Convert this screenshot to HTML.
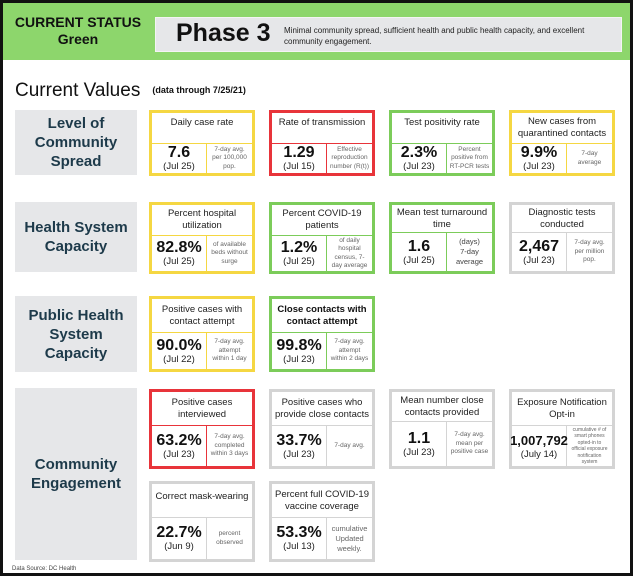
<!DOCTYPE html><html><head><style>
body{margin:0;width:633px;height:576px;background:#fff;font-family:"Liberation Sans",sans-serif;position:relative;overflow:hidden}
.frame{position:absolute;left:0;top:0;width:627px;height:570px;border:3px solid #111}
.hdr{position:absolute;left:3px;top:3px;width:627px;height:57px;background:#8dd66c}
.cs{position:absolute;left:8px;top:14px;width:140px;text-align:center;font-weight:bold;font-size:14px;line-height:17px;color:#111}
.gb{position:absolute;left:155px;top:17px;width:465px;height:33px;background:#e6e7e9;border:1px solid #f4f4f4}
.ph{position:absolute;left:20px;top:1px;font-size:25px;font-weight:bold;color:#111}
.pd{position:absolute;left:128px;top:7px;font-size:8px;line-height:11px;color:#222;width:335px}
.cv{position:absolute;left:15px;top:80px;font-size:19px;color:#111}
.cv small{font-size:9px;margin-left:12px;font-weight:bold;vertical-align:3px}
.cat{position:absolute;left:15px;width:122px;background:#e6e7e9;color:#1d3a4a;font-weight:bold;font-size:15px;line-height:19px;display:flex;align-items:center;justify-content:center;text-align:center}
.card{position:absolute;width:100px;border:3px solid #ccc;box-sizing:content-box}
.card .t{box-sizing:border-box;position:absolute;left:0;right:0;top:0;display:flex;align-items:center;justify-content:center;text-align:center;font-size:9.5px;line-height:12px;color:#222;border-bottom:1px solid}
.card .v{position:absolute;left:0;width:54px;bottom:0;border-right:1px solid;display:flex;flex-direction:column;align-items:center;justify-content:center;text-align:center}
.v b{font-size:16px;color:#111;line-height:17px}
.v span{font-size:9.5px;color:#222;line-height:12px}
.card .n{position:absolute;left:55px;right:0;bottom:0;display:flex;align-items:center;justify-content:center;text-align:center;font-size:6.5px;line-height:8.5px;color:#666}
.y{border-color:#f5d742}.y .t,.y .v{border-color:#f5d742}
.r{border-color:#e8343a}.r .t,.r .v{border-color:#e8343a}
.g{border-color:#7ccc5a}.g .t,.g .v{border-color:#7ccc5a}
.k{border-color:#d4d4d4}.k .t,.k .v{border-color:#d4d4d4}
.src{position:absolute;left:12px;top:566px;font-size:6px;color:#444}
</style></head><body>
<div class="frame"></div>
<div class="hdr"></div>
<div class="cs">CURRENT STATUS<br>Green</div>
<div class="gb"><div class="ph">Phase 3</div><div class="pd">Minimal community spread, sufficient health and public health capacity, and excellent community engagement.</div></div>
<div class="cv">Current Values<small>(data through 7/25/21)</small></div>

<div class="cat" style="top:110px;height:65px">Level of<br>Community<br>Spread</div>
<div class="cat" style="top:202px;height:70px">Health System<br>Capacity</div>
<div class="cat" style="top:296px;height:76px">Public Health<br>System<br>Capacity</div>
<div class="cat" style="top:388px;height:172px">Community<br>Engagement</div>

<!-- row1 -->
<div class="card y" style="left:149px;top:110px;height:60px"><div class="t" style="height:31px;align-items:flex-start;padding-top:4px">Daily case rate</div><div class="v" style="height:29px"><b>7.6</b><span>(Jul 25)</span></div><div class="n" style="height:29px">7-day avg.<br>per 100,000<br>pop.</div></div>
<div class="card r" style="left:269px;top:110px;height:60px"><div class="t" style="height:31px;align-items:flex-start;padding-top:4px">Rate of transmission</div><div class="v" style="height:29px"><b>1.29</b><span>(Jul 15)</span></div><div class="n" style="height:29px">Effective<br>reproduction<br>number (R(t))</div></div>
<div class="card g" style="left:389px;top:110px;height:60px"><div class="t" style="height:31px;align-items:flex-start;padding-top:4px">Test positivity rate</div><div class="v" style="height:29px"><b>2.3%</b><span>(Jul 23)</span></div><div class="n" style="height:29px">Percent<br>positive from<br>RT-PCR tests</div></div>
<div class="card y" style="left:509px;top:110px;height:60px"><div class="t" style="height:31px">New cases from<br>quarantined contacts</div><div class="v" style="height:29px"><b>9.9%</b><span>(Jul 23)</span></div><div class="n" style="height:29px">7-day<br>average</div></div>

<!-- row2 -->
<div class="card y" style="left:149px;top:202px;height:66px"><div class="t" style="height:31px">Percent hospital<br>utilization</div><div class="v" style="height:35px"><b>82.8%</b><span>(Jul 25)</span></div><div class="n" style="height:35px">of available<br>beds without<br>surge</div></div>
<div class="card g" style="left:269px;top:202px;height:66px"><div class="t" style="height:31px">Percent COVID-19<br>patients</div><div class="v" style="height:35px"><b>1.2%</b><span>(Jul 25)</span></div><div class="n" style="height:35px">of daily<br>hospital<br>census, 7-<br>day average</div></div>
<div class="card g" style="left:389px;top:202px;height:66px"><div class="t" style="height:28px">Mean test turnaround<br>time</div><div class="v" style="height:38px"><b>1.6</b><span>(Jul 25)</span></div><div class="n" style="height:38px;font-size:7.5px;line-height:10px;color:#444">(days)<br>7-day<br>average</div></div>
<div class="card k" style="left:509px;top:202px;height:66px"><div class="t" style="height:28px">Diagnostic tests<br>conducted</div><div class="v" style="height:38px"><b>2,467</b><span>(Jul 23)</span></div><div class="n" style="height:38px">7-day avg.<br>per million<br>pop.</div></div>

<!-- row3 -->
<div class="card y" style="left:149px;top:296px;height:70px"><div class="t" style="height:34px">Positive cases with<br>contact attempt</div><div class="v" style="height:36px"><b>90.0%</b><span>(Jul 22)</span></div><div class="n" style="height:36px">7-day avg.<br>attempt<br>within 1 day</div></div>
<div class="card g" style="left:269px;top:296px;height:70px"><div class="t" style="height:34px;font-weight:bold;color:#111">Close contacts with<br>contact attempt</div><div class="v" style="height:36px"><b>99.8%</b><span>(Jul 23)</span></div><div class="n" style="height:36px">7-day avg.<br>attempt<br>within 2 days</div></div>

<!-- row4 -->
<div class="card r" style="left:149px;top:389px;height:74px"><div class="t" style="height:34px">Positive cases<br>interviewed</div><div class="v" style="height:40px"><b>63.2%</b><span>(Jul 23)</span></div><div class="n" style="height:40px">7-day avg.<br>completed<br>within 3 days</div></div>
<div class="card k" style="left:269px;top:389px;height:74px"><div class="t" style="height:34px">Positive cases who<br>provide close contacts</div><div class="v" style="height:40px"><b>33.7%</b><span>(Jul 23)</span></div><div class="n" style="height:40px">7-day avg.</div></div>
<div class="card k" style="left:389px;top:389px;height:74px"><div class="t" style="height:30px">Mean number close<br>contacts provided</div><div class="v" style="height:44px"><b>1.1</b><span>(Jul 23)</span></div><div class="n" style="height:44px">7-day avg.<br>mean per<br>positive case</div></div>
<div class="card k" style="left:509px;top:389px;height:74px"><div class="t" style="height:34px">Exposure Notification<br>Opt-in</div><div class="v" style="height:40px"><b style="font-size:13px">1,007,792</b><span>(July 14)</span></div><div class="n" style="height:40px;font-size:5px;line-height:6.5px">cumulative # of<br>smart phones<br>opted-in to<br>official exposure<br>notification<br>system</div></div>

<div class="card k" style="left:149px;top:481px;height:75px"><div class="t" style="height:34px;align-items:flex-start;padding-top:7px">Correct mask-wearing</div><div class="v" style="height:41px"><b>22.7%</b><span>(Jun 9)</span></div><div class="n" style="height:41px">percent<br>observed</div></div>
<div class="card k" style="left:269px;top:481px;height:75px"><div class="t" style="height:34px">Percent full COVID-19<br>vaccine coverage</div><div class="v" style="height:41px"><b>53.3%</b><span>(Jul 13)</span></div><div class="n" style="height:41px;font-size:7.5px;line-height:10px">cumulative<br>Updated<br>weekly.</div></div>

<div class="src">Data Source: DC Health</div>
</body></html>
